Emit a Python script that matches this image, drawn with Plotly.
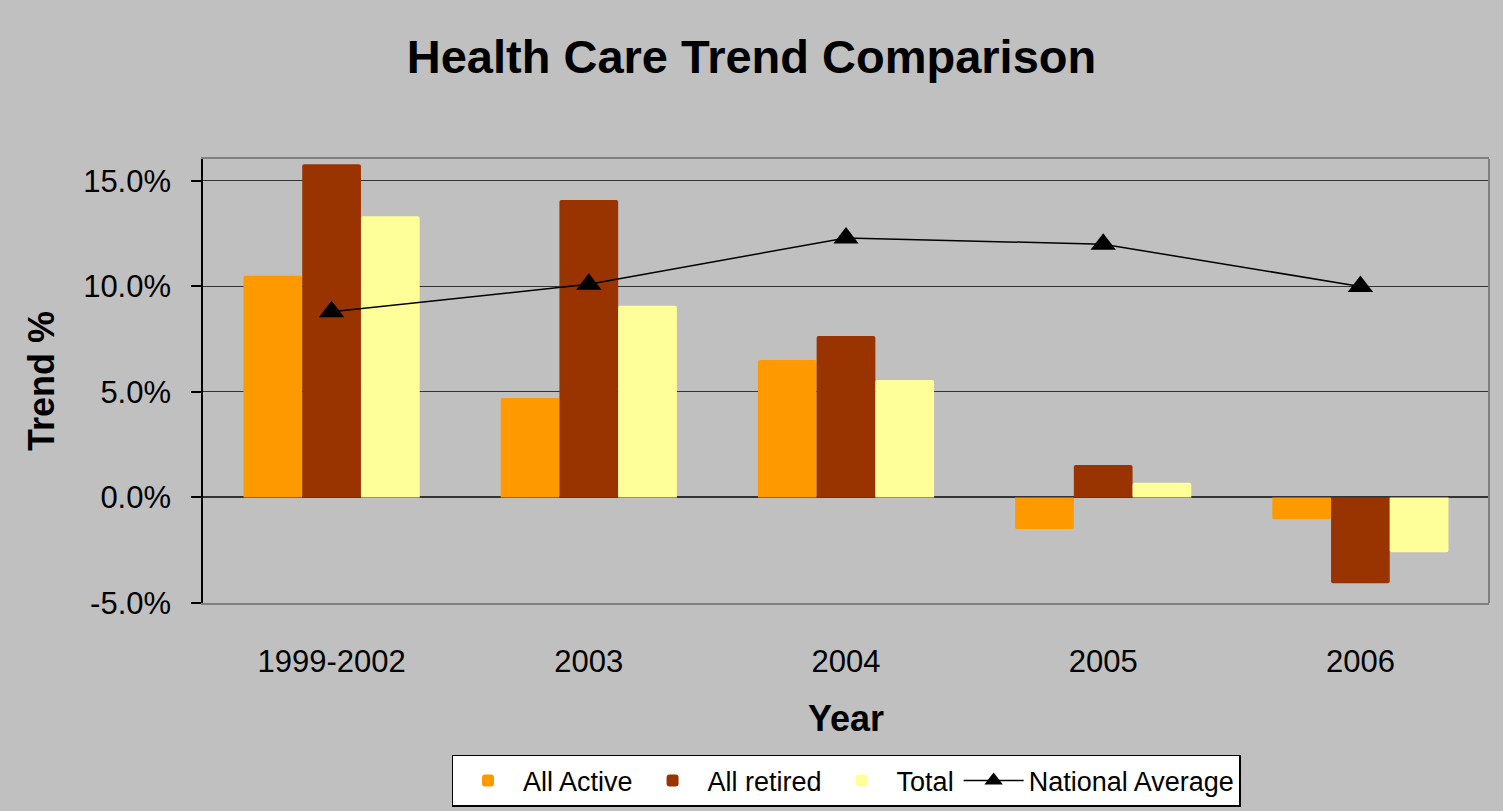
import plotly.graph_objects as go

categories = ["1999-2002", "2003", "2004", "2005", "2006"]
all_active = [0.1051, 0.0472, 0.0652, -0.0149, -0.0103]
all_retired = [0.1579, 0.1410, 0.0765, 0.0154, -0.0407]
total = [0.1333, 0.0908, 0.0557, 0.0070, -0.0260]
national_avg = [0.088, 0.101, 0.123, 0.120, 0.100]
y_ticks = [-0.05, 0.0, 0.05, 0.10, 0.15]

FONT = "Liberation Sans, Arial, sans-serif"
BG = "#C0C0C0"

fig = go.Figure()
fig.add_trace(go.Bar(name="All Active", x=categories, y=all_active,
                     marker=dict(color="#FF9900", line=dict(width=0))))
fig.add_trace(go.Bar(name="All retired", x=categories, y=all_retired,
                     marker=dict(color="#993300", line=dict(width=0))))
fig.add_trace(go.Bar(name="Total", x=categories, y=total,
                     marker=dict(color="#FFFF99", line=dict(width=0))))
fig.add_trace(go.Scatter(name="National Average", x=categories, y=national_avg,
                         mode="lines+markers",
                         line=dict(color="black", width=1.5),
                         marker=dict(symbol="triangle-up", size=22, color="black")))

fig.update_layout(
    width=1503, height=811,
    paper_bgcolor=BG, plot_bgcolor=BG,
    margin=dict(l=203, r=14, t=159, b=208, autoexpand=False),
    barmode="group", bargap=0.315, bargroupgap=0,
    barcornerradius=2,
    font=dict(family=FONT, color="black"),
    title=dict(text="<b>Health Care Trend Comparison</b>", x=0.5, xref="container",
               xanchor="center", y=1 - 57 / 811, yanchor="middle", yref="container",
               font=dict(size=47, family=FONT, color="black")),
    legend=dict(orientation="h", x=0.5, xanchor="center", y=-0.342, yanchor="top",
                bgcolor="white", bordercolor="black", borderwidth=1.5,
                font=dict(size=27, family=FONT), traceorder="normal",
                itemwidth=60),
    showlegend=True,
)

fig.update_xaxes(
    showgrid=False, showline=True, linecolor="#808080", linewidth=2, mirror=True,
    ticks="", tickfont=dict(size=31, family=FONT), ticklabelstandoff=30,
    automargin=False,
    title=dict(text="<b>Year</b>", font=dict(size=36, family=FONT), standoff=28),
)
fig.update_yaxes(
    range=[-0.05, 0.1604], tickvals=y_ticks,
    ticktext=[f"{v * 100:.1f}%" for v in y_ticks],
    showgrid=True, gridcolor="#333333", gridwidth=1.2,
    zeroline=True, zerolinecolor="#333333", zerolinewidth=1.5,
    showline=True, linecolor="black", linewidth=1.5,
    ticks="outside", ticklen=10, tickcolor="black", tickwidth=1.5,
    tickfont=dict(size=31, family=FONT), ticklabelstandoff=14,
    automargin=False,
    title=dict(text="<b>Trend %</b>", font=dict(size=36, family=FONT), standoff=18),
)

fig.add_shape(type="line", xref="paper", yref="paper", x0=1, x1=1, y0=0, y1=1,
              line=dict(color="#808080", width=2))

fig.write_html("out.html")
